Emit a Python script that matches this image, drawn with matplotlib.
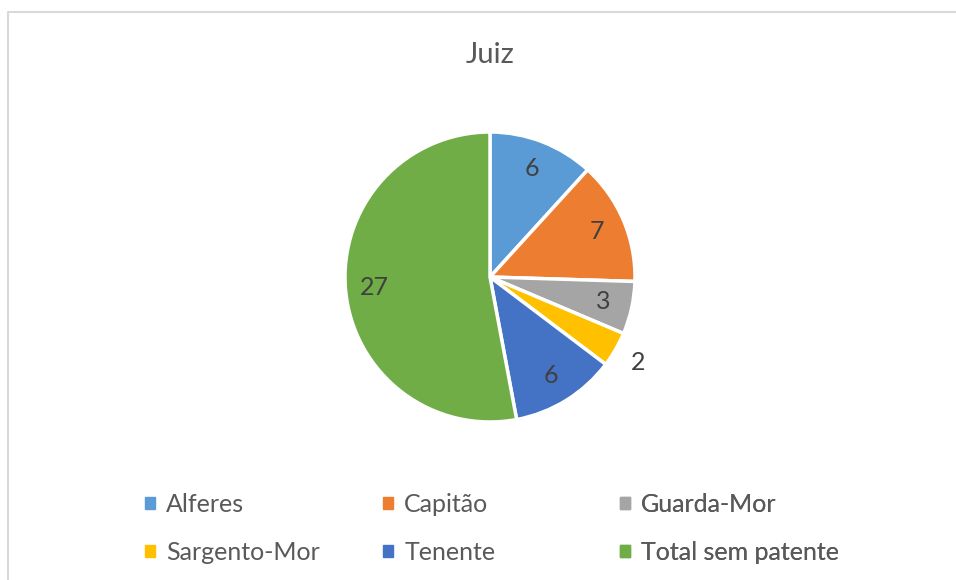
import matplotlib
matplotlib.use("Agg")
import matplotlib.pyplot as plt
import numpy as np

plt.rcParams['font.family'] = ['Lato', 'DejaVu Sans']

categories = ['Alferes', 'Capitão', 'Guarda-Mor', 'Sargento-Mor', 'Tenente', 'Total sem patente']
values = [6, 7, 3, 2, 6, 27]
colors = ['#5B9BD5', '#ED7D31', '#A5A5A5', '#FFC000', '#4472C4', '#70AD47']
title = 'Juiz'

W, H = 956, 580
fig = plt.figure(figsize=(W / 100, H / 100), dpi=100)
ax = fig.add_axes([0, 0, 1, 1])
total = sum(values)
cx, cy, r = 490, H - 277, 145

wedges, texts, autotexts = ax.pie(
    values, colors=colors, startangle=90, counterclock=False,
    center=(cx, cy), radius=r,
    wedgeprops=dict(edgecolor='white', linewidth=2.5),
    autopct=lambda p: '%d' % round(p * total / 100), pctdistance=0.8,
    textprops=dict(fontsize=18, color='#404040'))

# small slice label goes outside, like Excel's best fit
for w, t, v in zip(wedges, autotexts, values):
    if v / total < 0.05:
        a = np.deg2rad((w.theta1 + w.theta2) / 2)
        t.set_position((cx + 1.18 * r * np.cos(a), cy + 1.18 * r * np.sin(a)))

ax.set_xlim(0, W)
ax.set_ylim(0, H)
ax.axis('off')

# chart border (cut at right and bottom)
ax.plot([8, 8, W + 5], [-5, H - 12, H - 12], color='#D9D9D9', lw=1.5, clip_on=False)

ax.text(cx, H - 55, title, ha='center', va='center', fontsize=21, color='#595959')

# legend: three fixed-width columns, two rows
col_x = [145, 383, 620]
for c in range(3):
    hs = [plt.Rectangle((0, 0), 1, 1, color=colors[c]), plt.Rectangle((0, 0), 1, 1, color=colors[c + 3])]
    leg = ax.legend(hs, [categories[c], categories[c + 3]], loc='upper left',
                    bbox_to_anchor=(col_x[c] / W, 1 - 493 / H), frameon=False,
                    fontsize=18, handlelength=0.4, handleheight=0.4, handletextpad=0.45,
                    labelspacing=1.0, borderpad=0, borderaxespad=0, labelcolor='#595959')
    ax.add_artist(leg)

fig.savefig('out.png', dpi=100, facecolor='white')
